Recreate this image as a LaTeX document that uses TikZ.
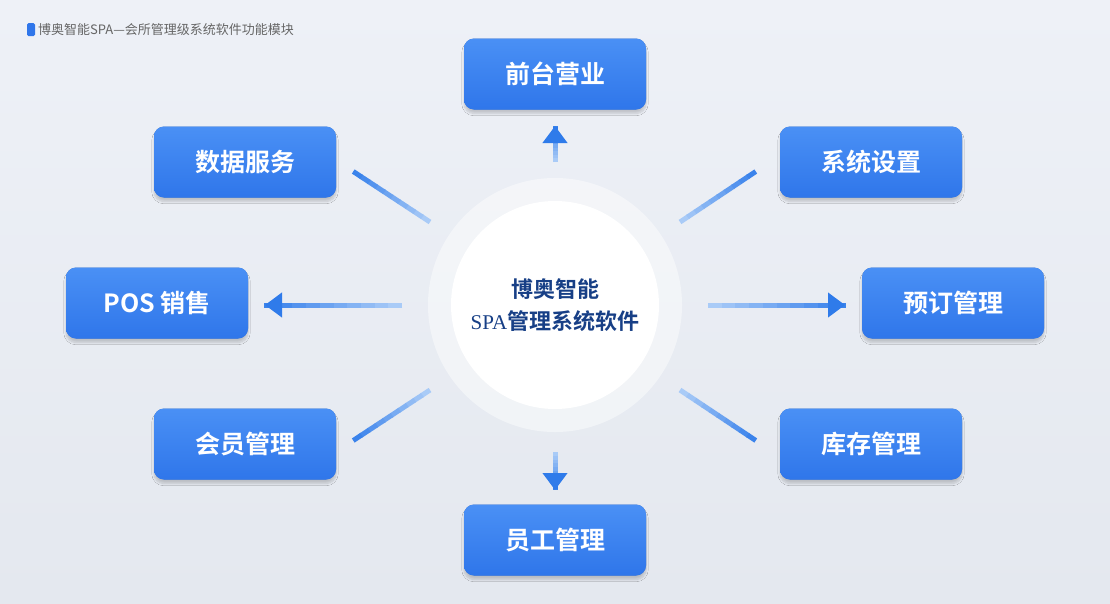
\documentclass[tikz,border=0pt]{standalone}
\usepackage{fontspec}
\setmainfont{Noto Sans CJK SC}
\newfontfamily\cjkb{Noto Sans CJK SC Bold}
\newfontfamily\serifl{Liberation Serif}
\usetikzlibrary{shadows.blur,arrows.meta}
\definecolor{bgtop}{HTML}{EEF1F7}
\definecolor{bgbot}{HTML}{E4E8EF}
\definecolor{boxtop}{HTML}{4A90F5}
\definecolor{boxbot}{HTML}{2F76EA}
\definecolor{linedark}{HTML}{2F7BEA}
\definecolor{linelight}{HTML}{A9CBF7}
\definecolor{navy}{HTML}{173F86}
\tikzset{
  modbox/.style={rounded corners=10pt, minimum width=182pt, minimum height=71pt,
    top color=boxtop, bottom color=boxbot, draw=none, text=white,
    font=\cjkb\fontsize{25}{25}\selectfont,
    blur shadow={shadow xshift=0pt, shadow yshift=-4pt, shadow blur steps=8, shadow opacity=18, fill=boxbot!60!gray}},
  conn/.style={line width=5pt},
  tip/.style={-{Triangle[length=17pt,width=24pt]}}
}
\begin{document}
\begin{tikzpicture}[x=1pt,y=-1pt]
\shade[top color=bgtop,bottom color=bgbot] (0,0) rectangle (1110,603);
\useasboundingbox (0,0) rectangle (1110,603);
% title
\fill[boxbot,rounded corners=1.5pt] (27,23) rectangle (35,36);
\node[anchor=west,text=gray!80!black,font=\fontsize{13}{13}\selectfont,inner sep=0] (title) at (38,29.5) {博奥智能SPA—会所管理级系统软件功能模块};
% center
\fill[white,opacity=0.45] (555,305) circle (127);
\fill[white] (555,305) circle (104);
\node[circle,minimum size=208pt,inner sep=0] (hub) at (555,305) {};
\node[align=center,text=navy,font=\cjkb\fontsize{22}{32}\selectfont] (hubtext) at (555,305) {博奥智能\\{\serifl\fontsize{21}{32}\selectfont SPA}管理系统软件};
% boxes
\node[modbox] (qt) at (555,74) {前台营业};
\node[modbox] (xt) at (871,162) {系统设置};
\node[modbox] (sj) at (245,162) {数据服务};
\node[modbox] (pos) at (157,303) {POS 销售};
\node[modbox] (yd) at (953,303) {预订管理};
\node[modbox] (hy) at (245,444) {会员管理};
\node[modbox] (kc) at (871,444) {库存管理};
\node[modbox] (yg) at (555,540) {员工管理};
% connector coordinates
\coordinate (uS) at (555,162); \coordinate (uE) at (555,126);
\coordinate (dS) at (555,452); \coordinate (dE) at (555,490);
\coordinate (lS) at (402,305); \coordinate (lE) at (265,305);
\coordinate (rS) at (708,305); \coordinate (rE) at (845,305);
\coordinate (nwS) at (430,222); \coordinate (nwE) at (354,172);
\coordinate (neS) at (680,222); \coordinate (neE) at (755,172);
\coordinate (swS) at (430,390); \coordinate (swE) at (354,440);
\coordinate (seS) at (680,390); \coordinate (seE) at (755,440);
% gradient lines
\foreach \s/\e in {uS/uE,dS/dE,lS/lE,rS/rE,nwS/nwE,neS/neE,swS/swE,seS/seE}{
  \foreach \i in {0,...,9}{
    \pgfmathsetmacro{\a}{\i/10}\pgfmathsetmacro{\b}{(\i+1)/10+0.01}
    \pgfmathsetmacro{\c}{100-\i*10}
    \draw[conn,color=linelight!\c!linedark] ($(\s)!\a!(\e)$) -- ($(\s)!\b!(\e)$);
  }
}
\foreach \s/\e in {uS/uE,dS/dE,lS/lE,rS/rE}{
  \draw[tip,line width=5pt,linedark] ($(\s)!0.97!(\e)$) -- (\e);
}
\end{tikzpicture}
\end{document}
